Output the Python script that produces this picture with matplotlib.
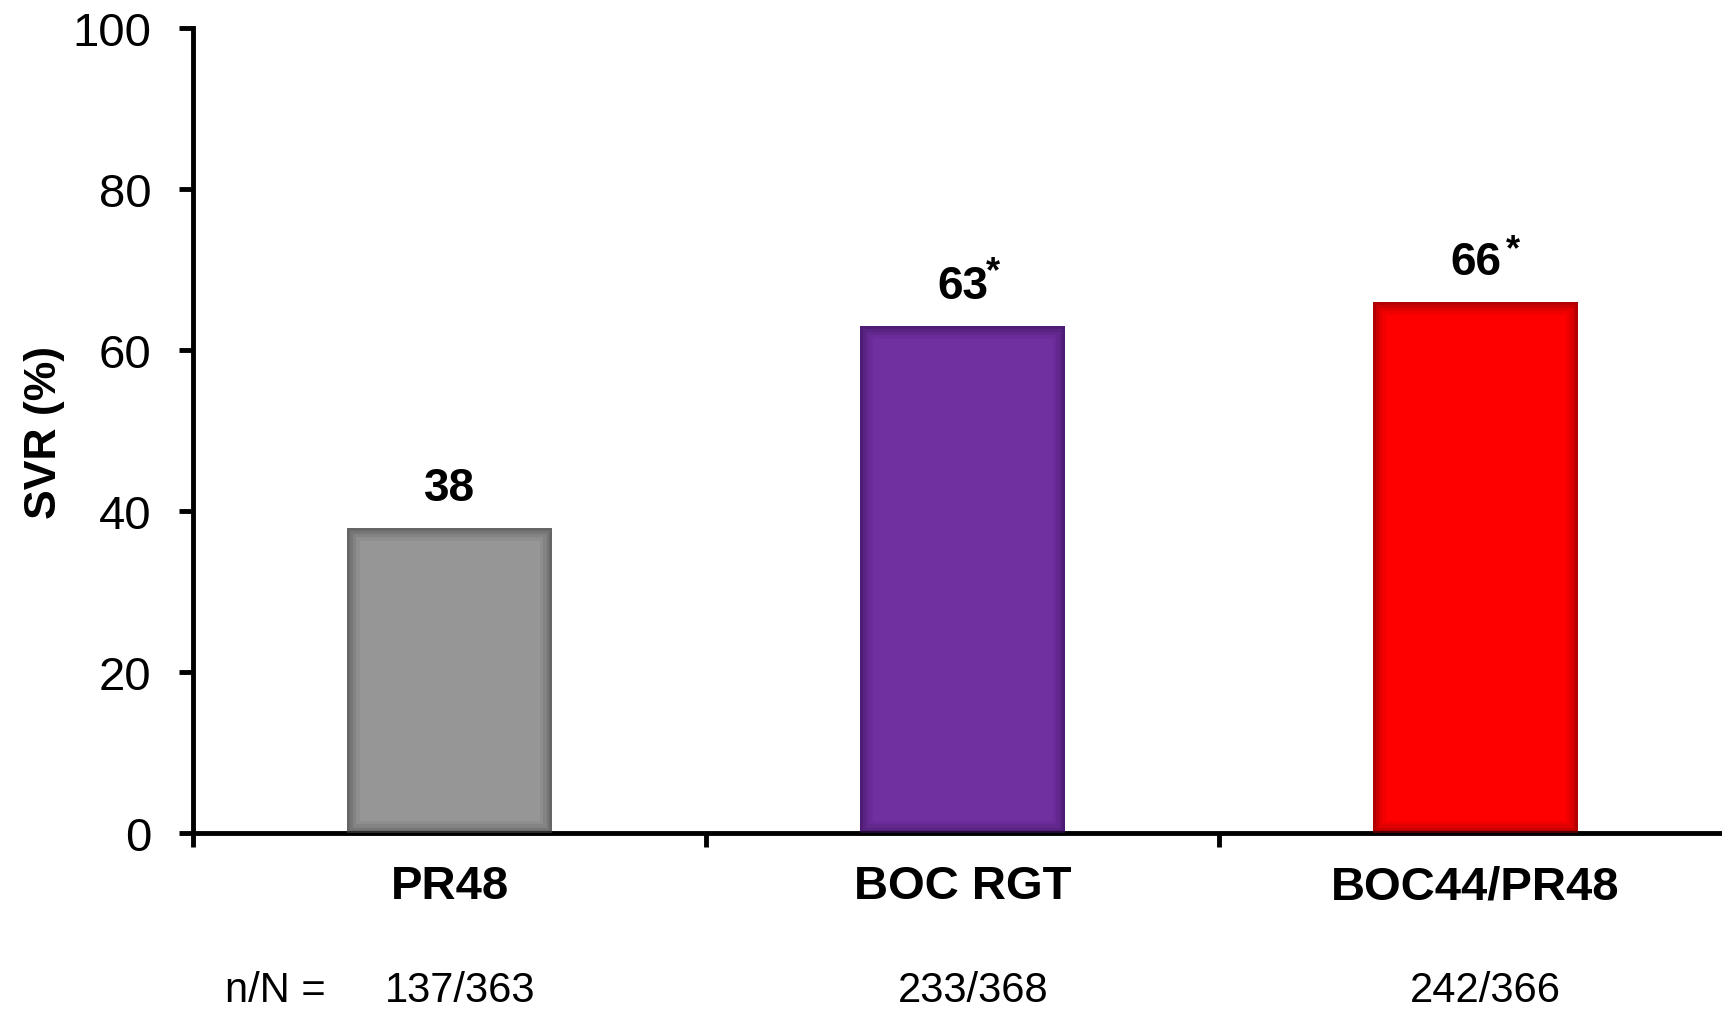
import matplotlib.pyplot as plt
import numpy as np

plt.rcParams["font.family"] = ["Liberation Sans", "DejaVu Sans"]

groups = ["PR48", "BOC RGT", "BOC44/PR48"]
svr = [38, 63, 66]
marks = ["", "*", "*"]
counts = ["137/363", "233/368", "242/366"]
colors = ["#969696", "#7030A0", "#FF0000"]
edges = ["#4a4a4a", "#3a1258", "#800000"]
yticks = [0, 20, 40, 60, 80, 100]

fig = plt.figure(figsize=(17.22, 10.12), dpi=100)
ax = fig.add_axes([0.1121, 0.1754, 0.8937, 0.7955])

x = np.arange(len(groups))
bars = ax.bar(x, svr, width=0.40, color=colors, zorder=2)

# soft dark rim inside each bar
for b, ec in zip(bars, edges):
    for lw, a in [(18, 0.10), (13, 0.15), (8, 0.22), (4, 0.35)]:
        rim = ax.bar(b.get_x() + b.get_width() / 2, b.get_height(),
                     width=b.get_width(), fill=False, edgecolor=ec,
                     linewidth=lw, alpha=a, zorder=3)[0]
        rim.set_clip_path(b)

star_off = {1: (17, 27), 2: (22, 25)}
for xi, v, m in zip(x, svr, marks):
    ax.annotate(str(v), (xi, v), xytext=(0, 13), textcoords="offset points",
                ha="center", va="bottom", fontsize=33, fontweight="bold")
    if m:
        ax.annotate(m, (xi, v), xytext=star_off[xi],
                    textcoords="offset points", ha="left", va="bottom",
                    fontsize=26, fontweight="bold")

ax.set_xlim(-0.5, 2.5)
ax.set_ylim(0, 100)
ax.set_yticks(yticks)
ax.set_yticklabels([str(t) for t in yticks])
ax.set_xticks([-0.5, 0.5, 1.5, 2.5])
ax.set_xticklabels([])
ax.set_xticks(x, minor=True)
ax.set_xticklabels(groups, minor=True, fontsize=34, fontweight="bold")
ax.tick_params(axis="x", which="minor", length=0, pad=22)
ax.tick_params(axis="x", which="major", length=10, width=3.5, direction="out")
ax.tick_params(axis="y", length=10, width=3.5, pad=20, labelsize=34)

for s in ["top", "right"]:
    ax.spines[s].set_visible(False)
for s in ["left", "bottom"]:
    ax.spines[s].set_linewidth(3.5)

ax.text(-0.0968, 0.5, "SVR (%)", transform=ax.transAxes, rotation=90,
        ha="center", va="center", fontsize=32, fontweight="bold")

tr = ax.get_xaxis_transform()
ax.text(-0.34, -0.195, "n/N =", transform=tr, ha="center", va="center",
        fontsize=30, clip_on=False)
for xi, c in zip(x, counts):
    ax.text(xi + 0.02, -0.195, c, transform=tr, ha="center", va="center",
            fontsize=30, clip_on=False)

fig.savefig("out.png", dpi=100)
